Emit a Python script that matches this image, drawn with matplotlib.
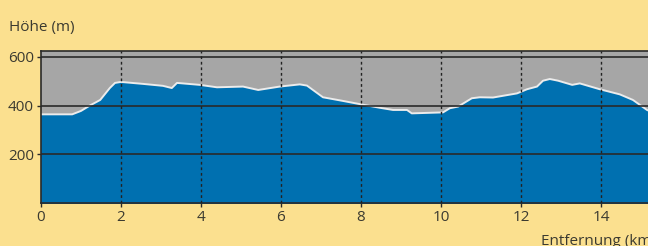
import matplotlib
matplotlib.use("Agg")
import matplotlib.pyplot as plt

dist_km = [0.0, 0.78, 1.0, 1.22, 1.48, 1.72, 1.85, 2.0, 2.55, 3.05, 3.27, 3.4, 3.97,
           4.4, 5.05, 5.43, 5.97, 6.47, 6.65, 7.05, 7.55, 8.0, 8.47, 8.8, 9.15, 9.27,
           10.05, 10.22, 10.43, 10.77, 10.97, 11.3, 11.9, 12.15, 12.4, 12.55, 12.72,
           12.93, 13.28, 13.47, 13.97, 14.47, 14.8, 15.15, 15.4]
elev_m = [364, 364, 378, 400, 423, 472, 493, 497, 489, 481, 472, 493, 485,
          475, 478, 464, 478, 487, 482, 434, 419, 405, 391, 382, 382, 368,
          372, 389, 396, 430, 434, 433, 450, 467, 478, 502, 509,
          502, 485, 491, 467, 446, 423, 382, 365]
x_ticks = [0, 2, 4, 6, 8, 10, 12, 14]
y_ticks = [200, 400, 600]

bg = "#FBE08F"
txt = "#3b3a30"
fs = 11
fig = plt.figure(figsize=(6.48, 2.46), dpi=100, facecolor=bg)
x0 = 41 / 648
xmax = 15.4
w = xmax * 40 / 648
ax = fig.add_axes([x0, 1 - 203 / 246, w, (203 - 51) / 246])
ymax = 624
ax.set_xlim(0, xmax)
ax.set_ylim(0, ymax)
ax.set_facecolor("#A6A6A6")
ax.fill_between(dist_km, elev_m, 0, color="#0070B0", zorder=1)
ax.plot(dist_km, elev_m, color="#ececec", lw=1.4, zorder=2)

for y in y_ticks:
    ax.axhline(y, color="#2a2a2a", lw=1.2, zorder=3)
for x in x_ticks[1:]:
    ax.axvline(x, color="#222222", lw=1.0, ls=(0, (2, 2)), zorder=3)

ax.set_xticks(x_ticks)
ax.set_yticks(y_ticks)
ax.tick_params(axis="both", direction="out", length=3, width=1, color="#2a2a2a",
               labelsize=fs, labelcolor=txt, pad=2)
for lab in ax.get_xticklabels() + ax.get_yticklabels():
    lab.set_fontfamily("Open Sans")
for s in ["left", "bottom", "top"]:
    ax.spines[s].set_color("#2a2a2a")
    ax.spines[s].set_linewidth(1.2)
ax.spines["right"].set_visible(False)

fig.text(9 / 648, 1 - 31 / 246, "Höhe (m)", fontsize=fs, color=txt,
         family="Open Sans", va="baseline", ha="left")
fig.text(541 / 648, 1 - 245 / 246, "Entfernung (km)", fontsize=fs, color=txt,
         family="Open Sans", va="baseline", ha="left")

fig.savefig("out.png", dpi=100, facecolor=bg)
